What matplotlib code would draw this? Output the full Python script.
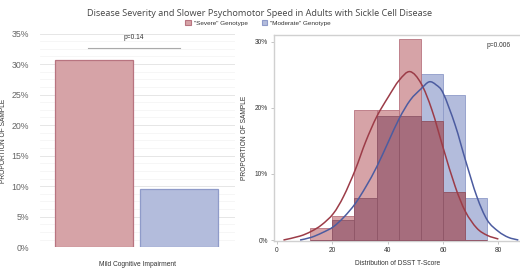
import numpy as np
import matplotlib.pyplot as plt
from matplotlib.patches import Patch, PathPatch
from matplotlib.path import Path
from matplotlib.ticker import MultipleLocator

# left panel: mild cognitive impairment by genotype (%)
groups = ['"Severe" Genotype', '"Moderate" Genotype']
mci_pct = [30.6, 9.5]

# right panel: DSST T-score histogram (% of sample per bin)
bin_edges = [12, 20, 28, 36, 44, 52, 60, 68, 76]
severe_pct = [1.8, 3.6, 19.7, 19.7, 30.4, 18.0, 7.2, 0.0]
moderate_pct = [0.0, 3.1, 6.3, 18.8, 18.8, 25.1, 21.9, 6.3]

# density curves (T-score, %)
severe_curve_x = [2.4, 8.4, 12.4, 16.2, 20.4, 24.1, 28.3, 32.1, 36.1, 40.3, 44.2, 48.1,
                  52.1, 56.0, 60.1, 64.4, 68.1, 72.2, 76.0, 80.0]
severe_curve_y = [0.0, 0.6, 1.3, 2.3, 4.0, 6.6, 10.6, 14.9, 18.7, 21.7, 24.2, 25.5,
                  23.7, 19.7, 13.9, 8.1, 4.3, 1.8, 0.7, 0.15]
moderate_curve_x = [8.4, 12.4, 16.4, 20.4, 24.3, 28.3, 32.2, 36.1, 40.2, 44.2, 48.2,
                    52.1, 55.0, 57.5, 60.1, 64.4, 68.1, 72.2, 76.0, 80.0, 83.6, 87.2]
moderate_curve_y = [0.0, 0.4, 1.1, 2.0, 3.5, 5.5, 8.1, 11.1, 14.8, 18.4, 21.2,
                    22.9, 23.95, 23.5, 22.2, 17.4, 12.1, 6.6, 3.0, 1.3, 0.4, 0.0]

red_fill = "#D6A3A7"
red_edge = "#B87480"
blue_fill = "#B3BCDC"
blue_edge = "#8F9BC9"
overlap_fill = "#A66D7D"
red_line = "#9C3C48"
blue_line = "#4C5CA0"

plt.rcParams['font.family'] = ['Liberation Sans', 'DejaVu Sans']

fig = plt.figure(figsize=(5.2, 2.71), dpi=100)
W, H = 520, 271


def px_axes(x0, y0, x1, y1):
    return fig.add_axes([x0 / W, 1 - y1 / H, (x1 - x0) / W, (y1 - y0) / H])


def smooth_path(xs, ys):
    # bezier path through the points (catmull-rom style handles)
    p = np.column_stack([xs, ys]).astype(float)
    verts = [p[0]]
    codes = [Path.MOVETO]
    for i in range(len(p) - 1):
        p0 = p[i - 1] if i > 0 else p[i]
        p3 = p[i + 2] if i + 2 < len(p) else p[i + 1]
        c1 = p[i] + (p[i + 1] - p0) / 6
        c2 = p[i + 1] - (p3 - p[i]) / 6
        verts += [c1, c2, p[i + 1]]
        codes += [Path.CURVE4] * 3
    return Path(verts, codes)


fig.text(0.5, 1 - 14 / H, "Disease Severity and Slower Psychomotor Speed in Adults with Sickle Cell Disease",
         ha="center", va="center", fontsize=6.6, color="#444444", family=["Open Sans", "DejaVu Sans"])

handles = [Patch(facecolor=red_fill, edgecolor=red_edge, lw=0.8),
           Patch(facecolor=blue_fill, edgecolor=blue_edge, lw=0.8)]
fig.legend(handles, groups, loc="center", bbox_to_anchor=(258 / W, 1 - 23 / H), ncol=2,
           frameon=False, fontsize=4.6, handlelength=0.8, handleheight=0.8, handletextpad=0.5,
           columnspacing=2.2, labelcolor="#333333")

# ---- left panel
ax1 = px_axes(40, 33.5, 235, 247.3)
ax1.bar([0, 1], mci_pct, width=0.92, color=[red_fill, blue_fill],
        edgecolor=[red_edge, blue_edge], linewidth=0.9, zorder=3)
ax1.set_xlim(-0.635, 1.659)
ax1.set_ylim(0, 35)
ax1.yaxis.set_major_locator(MultipleLocator(5))
ax1.yaxis.set_minor_locator(MultipleLocator(1.25))
ax1.set_yticklabels([f"{int(v)}%" for v in ax1.get_yticks()])
ax1.grid(axis="y", which="major", color="#E6E6E6", lw=0.7, zorder=0)
ax1.grid(axis="y", which="minor", color="#F3F3F3", lw=0.5, zorder=0)
ax1.set_xticks([])
for s in ax1.spines.values():
    s.set_visible(False)
ax1.tick_params(axis="y", which="both", length=0, labelsize=6.3, labelcolor="#666666", pad=8)
ax1.set_xlabel("Mild Cognitive Impairment", fontsize=4.8, color="#333333", labelpad=10)
ax1.set_ylabel("PROPORTION OF SAMPLE", fontsize=4.8, color="#333333")
ax1.yaxis.set_label_coords(-0.17, 0.5)
ax1.plot([-0.07, 1.01], [32.6, 32.6], color="#AAAAAA", lw=0.8, clip_on=False)
ax1.text(0.47, 34.4, "p=0.14", ha="center", va="center", fontsize=4.8, color="#333333")

# ---- right panel
ax2 = px_axes(274.3, 35.3, 520, 241)
lefts = bin_edges[:-1]
widths = np.diff(bin_edges)
overlap = np.minimum(severe_pct, moderate_pct)
ax2.bar(lefts, moderate_pct, width=widths, align="edge", color=blue_fill,
        edgecolor=blue_edge, linewidth=0.6, zorder=2)
ax2.bar(lefts, severe_pct, width=widths, align="edge", color=red_fill,
        edgecolor=red_edge, linewidth=0.6, zorder=3)
ax2.bar(lefts, overlap, width=widths, align="edge", color=overlap_fill,
        edgecolor="#8E5566", linewidth=0.6, zorder=4)

ax2.add_patch(PathPatch(smooth_path(severe_curve_x, severe_curve_y), facecolor="none",
                        edgecolor=red_line, lw=1.1, zorder=5))
ax2.add_patch(PathPatch(smooth_path(moderate_curve_x, moderate_curve_y), facecolor="none",
                        edgecolor=blue_line, lw=1.1, zorder=5))

ax2.set_xlim(-0.9, 87.8)
ax2.set_ylim(-0.15, 31)
ax2.set_xticks([0, 20, 40, 60, 80])
ax2.set_yticks([0, 10, 20, 30])
ax2.set_yticklabels(["0%", "10%", "20%", "30%"])
ax2.spines["right"].set_visible(False)
for s in ["left", "top", "bottom"]:
    ax2.spines[s].set_color("#D0D0D0")
    ax2.spines[s].set_linewidth(1.0)
ax2.tick_params(length=2.5, width=0.6, color="#BBBBBB", labelsize=4.8, labelcolor="#333333", pad=2)
ax2.set_xlabel("Distribution of DSST T-Score", fontsize=4.8, color="#333333", labelpad=4)
ax2.set_ylabel("PROPORTION OF SAMPLE", fontsize=4.8, color="#333333", labelpad=5)
ax2.text(84.5, 29.4, "p=0.006", ha="right", va="center", fontsize=4.8, color="#333333")

fig.savefig("out.png", dpi=100)
